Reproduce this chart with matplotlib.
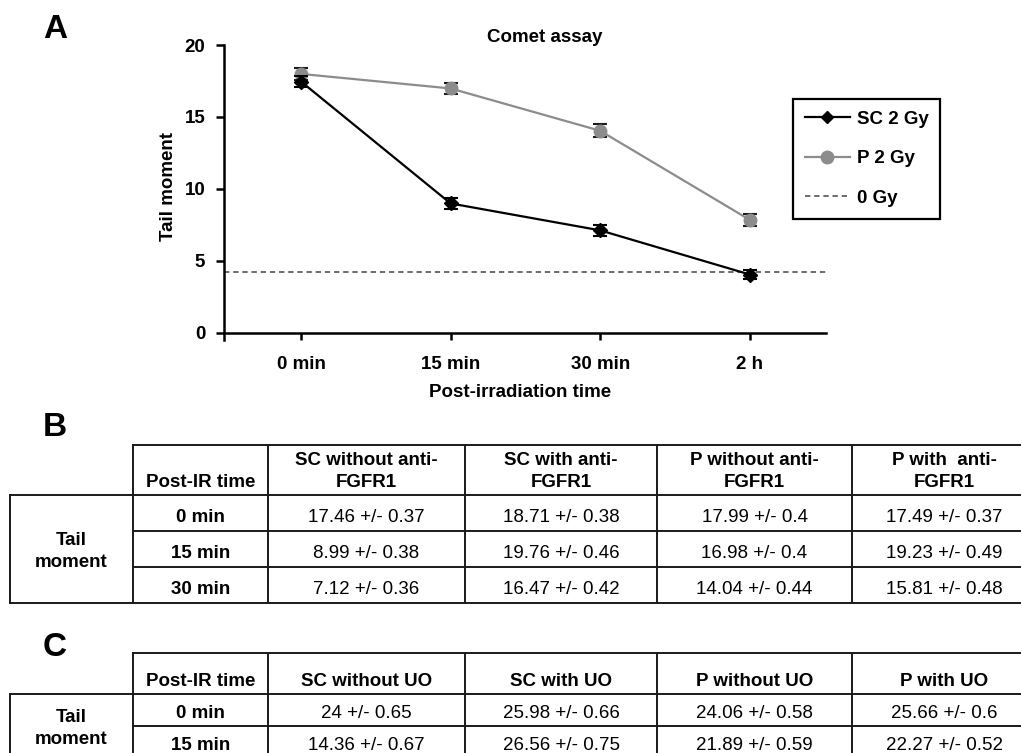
import numpy as np
import matplotlib
matplotlib.use('Agg')
from matplotlib import pyplot as plt
from matplotlib.lines import Line2D

plt.rcParams['font.family'] = ['Liberation Sans', 'DejaVu Sans']

# panel A data
time_labels = ['0 min', '15 min', '30 min', '2 h']
sc_mean = [17.46, 8.99, 7.12, 4.05]
sc_err = [0.37, 0.38, 0.36, 0.30]
p_mean = [17.99, 16.98, 14.04, 7.85]
p_err = [0.40, 0.40, 0.44, 0.42]
gy0_level = 4.24

# panel B table
b_headers = ['SC without anti-\nFGFR1', 'SC with anti-\nFGFR1',
             'P without anti-\nFGFR1', 'P with  anti-\nFGFR1']
b_times = ['0 min', '15 min', '30 min']
b_values = [['17.46 +/- 0.37', '18.71 +/- 0.38', '17.99 +/- 0.4', '17.49 +/- 0.37'],
            ['8.99 +/- 0.38', '19.76 +/- 0.46', '16.98 +/- 0.4', '19.23 +/- 0.49'],
            ['7.12 +/- 0.36', '16.47 +/- 0.42', '14.04 +/- 0.44', '15.81 +/- 0.48']]

# panel C table
c_headers = ['SC without UO', 'SC with UO', 'P without UO', 'P with UO']
c_times = ['0 min', '15 min']
c_values = [['24 +/- 0.65', '25.98 +/- 0.66', '24.06 +/- 0.58', '25.66 +/- 0.6'],
            ['14.36 +/- 0.67', '26.56 +/- 0.75', '21.89 +/- 0.59', '22.27 +/- 0.52']]

FS = 13.5
W, H = 1021, 753

fig = plt.figure(figsize=(W / 100, H / 100), dpi=100)

# ---- panel A ----
ax = fig.add_axes([224 / W, (H - 340) / H, 602 / W, 295 / H])
x = np.arange(len(time_labels))

ax.axhline(gy0_level, color='#444444', lw=1.1, ls=(0, (3.5, 2.5)), zorder=1)
ax.errorbar(x, p_mean, yerr=p_err, fmt='-o', color='#8c8c8c', ms=9, lw=1.6,
            ecolor='#1a1a1a', elinewidth=1.5, capsize=5, capthick=1.5, zorder=3)
ax.errorbar(x, sc_mean, yerr=sc_err, fmt='-D', color='black', ms=7, lw=1.6,
            ecolor='black', elinewidth=1.5, capsize=5, capthick=1.5, zorder=4)

ax.set_xlim(-0.515, 3.51)
ax.set_ylim(-0.5, 20)
ax.spines['top'].set_visible(False)
ax.spines['right'].set_visible(False)
ax.spines['bottom'].set_position(('data', 0))
for s in ('left', 'bottom'):
    ax.spines[s].set_linewidth(1.8)
ax.set_xticks(x)
ax.set_xticklabels(time_labels, fontsize=FS, fontweight='bold')
ax.set_yticks([0, 5, 10, 15, 20])
ax.set_yticklabels(['0', '5', '10', '15', '20'], fontsize=FS, fontweight='bold')
ax.tick_params(axis='x', length=5, width=1.8, pad=12)
ax.tick_params(axis='y', length=5.5, width=1.8, pad=8)

ax.set_ylabel('Tail moment', fontsize=FS, fontweight='bold')
ax.yaxis.set_label_coords(-0.078, 0.52)
ax.set_xlabel('Post-irradiation time', fontsize=FS, fontweight='bold')
ax.xaxis.set_label_coords(0.492, -0.149)

fig.text(545 / W, (H - 42) / H, 'Comet assay', fontsize=FS, fontweight='bold',
         ha='center', va='baseline')

handles = [Line2D([], [], color='black', marker='D', ms=6.5, lw=1.6),
           Line2D([], [], color='#8c8c8c', marker='o', ms=9, lw=1.6),
           Line2D([], [], color='#444444', lw=1.1, ls=(0, (3.5, 2.5)))]
leg = ax.legend(handles, ['SC 2 Gy', 'P 2 Gy', '0 Gy'], loc='upper left',
                bbox_to_anchor=(793 / W, (H - 99) / H), bbox_transform=fig.transFigure,
                borderaxespad=0, prop={'weight': 'bold', 'size': FS}, fancybox=False,
                edgecolor='black', framealpha=1, handlelength=2.4, handletextpad=0.37,
                labelspacing=1.2, borderpad=0.62, numpoints=1)
leg.get_frame().set_linewidth(1.6)

# ---- panel labels ----
for lab, ytop in (('A', 38), ('B', 436), ('C', 656)):
    fig.text(43 / W, (H - ytop) / H, lab, fontsize=24, fontweight='bold', va='baseline')

# ---- tables B and C ----
tab = fig.add_axes([0, 0, 1, 1])
tab.set_xlim(0, W)
tab.set_ylim(H, 0)
tab.axis('off')

col_edges = [10, 133, 268, 465, 657, 852, 1036]
line_kw = dict(color='#1a1a1a', lw=1.4)


def draw_table(top, head_bottom, row_h, headers, times, values):
    n = len(times)
    bottom = head_bottom + n * row_h
    left, first, right = col_edges[0], col_edges[1], col_edges[-1]
    tab.plot([first, right], [top, top], **line_kw)
    tab.plot([left, right], [head_bottom, head_bottom], **line_kw)
    for i in range(1, n):
        yy = head_bottom + i * row_h
        tab.plot([first, right], [yy, yy], **line_kw)
    tab.plot([left, right], [bottom, bottom], **line_kw)
    tab.plot([left, left], [head_bottom, bottom], **line_kw)
    for xe in col_edges[1:]:
        tab.plot([xe, xe], [top, bottom], **line_kw)

    centers = [(a + b) / 2 for a, b in zip(col_edges[:-1], col_edges[1:])]
    # header row
    for cx, head in zip(centers[1:], ['Post-IR time'] + headers):
        lines = head.split('\n')
        for k, t in enumerate(lines):
            yb = head_bottom - 8 - (len(lines) - 1 - k) * 22.5
            tab.text(cx, yb, t, fontsize=FS, fontweight='bold', ha='center', va='baseline')
    # row label spanning data rows
    mid = (head_bottom + bottom) / 2 + 7
    tab.text(centers[0], mid - 11.25, 'Tail', fontsize=FS, fontweight='bold',
             ha='center', va='baseline')
    tab.text(centers[0], mid + 11.25, 'moment', fontsize=FS, fontweight='bold',
             ha='center', va='baseline')
    # data rows
    for i, (tm, row) in enumerate(zip(times, values)):
        yb = head_bottom + (i + 1) * row_h - 0.25 * row_h
        tab.text(centers[1], yb, tm, fontsize=FS, fontweight='bold', ha='center', va='baseline')
        for cx, v in zip(centers[2:], row):
            tab.text(cx, yb, v, fontsize=FS, ha='center', va='baseline')


draw_table(445, 495, 36, b_headers, b_times, b_values)
draw_table(653, 694, 32, c_headers, c_times, c_values)

plt.savefig('out.png', dpi=100)
